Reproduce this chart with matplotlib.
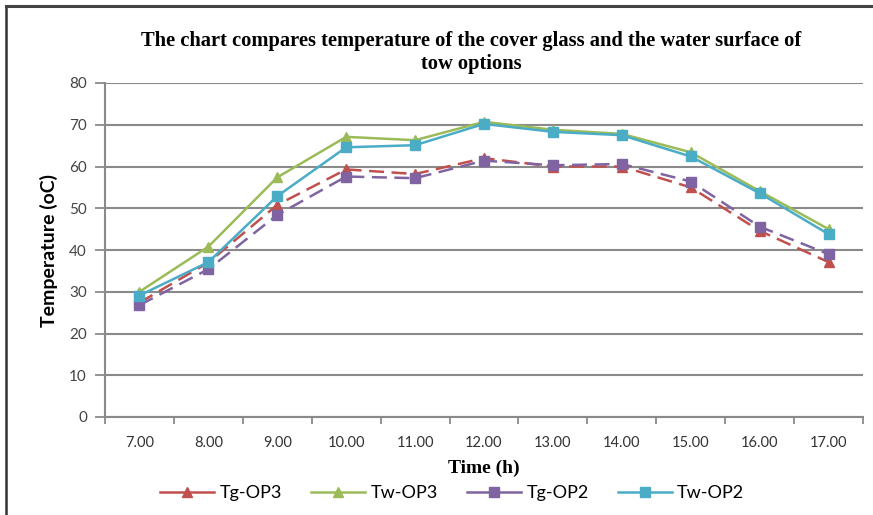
import matplotlib
matplotlib.use("Agg")
import matplotlib.pyplot as plt
from matplotlib.lines import Line2D
import numpy as np

times = ["7.00", "8.00", "9.00", "10.00", "11.00", "12.00", "13.00", "14.00", "15.00", "16.00", "17.00"]
tg_op3 = [27.4, 37.0, 50.8, 59.3, 58.2, 62.0, 60.0, 60.0, 55.0, 44.6, 37.1]
tw_op3 = [30.0, 40.8, 57.4, 67.1, 66.3, 70.7, 68.8, 67.8, 63.4, 54.1, 45.0]
tg_op2 = [26.8, 35.4, 48.4, 57.6, 57.2, 61.4, 60.3, 60.6, 56.4, 45.6, 39.0]
tw_op2 = [29.1, 37.1, 52.9, 64.6, 65.1, 70.2, 68.3, 67.5, 62.4, 53.6, 43.8]
y_ticks = [0, 10, 20, 30, 40, 50, 60, 70, 80]

title = "The chart compares temperature of the cover glass and the water surface of\ntow options"

fig = plt.figure(figsize=(8.73, 5.15), dpi=100)
ax = fig.add_axes([105/873, 1-417/515, (863-105)/873, (417-83)/515])

x = np.arange(len(times))
grid_c = "#8a8a8a"
series = [
    ("Tg-OP3", tg_op3, "#C0504D", "^", (0, (6, 3))),
    ("Tw-OP3", tw_op3, "#9BBB59", "^", "-"),
    ("Tg-OP2", tg_op2, "#8064A2", "s", (0, (6, 3))),
    ("Tw-OP2", tw_op2, "#4BACC6", "s", "-"),
]
handles = []
for name, vals, c, m, ls in series:
    ax.plot(x, vals, color=c, linestyle=ls, linewidth=1.8, marker=m,
            markersize=7, markerfacecolor=c, markeredgecolor=c, zorder=3)
    handles.append(Line2D([], [], color=c, linestyle="-", linewidth=1.8, marker=m,
                          markersize=7, markerfacecolor=c, markeredgecolor=c, label=name))

sans = ["Lato", "DejaVu Sans"]
ax.set_xlim(-0.5, len(times) - 0.5)
ax.set_ylim(0, 80)
ax.set_yticks(y_ticks)
ax.set_yticklabels([str(v) for v in y_ticks], family=sans, fontsize=11, color="#444444")
ax.set_xticks(x)
ax.set_xticklabels(times, family=sans, fontsize=10.5, color="#333333")
ax.set_xticks(np.arange(-0.5, len(times), 1.0), minor=True)
ax.tick_params(axis="x", which="major", length=0, pad=14)
ax.tick_params(axis="x", which="minor", length=5, color=grid_c, width=1.3)
ax.tick_params(axis="y", length=7, color=grid_c, width=1.3, pad=6)

ax.grid(axis="y", color=grid_c, linewidth=1.5)
ax.set_axisbelow(True)
for s in ["top", "right"]:
    ax.spines[s].set_visible(False)
for s in ["left", "bottom"]:
    ax.spines[s].set_color(grid_c)
    ax.spines[s].set_linewidth(1.5)

ax.set_ylabel("Temperature (oC)", family=sans, fontweight="bold", fontsize=14, labelpad=8)
ax.set_xlabel("Time (h)", family="Liberation Serif", fontweight="bold", fontsize=14, labelpad=7)

fig.text(0.54, 1-31/515, title, ha="center", va="top", family="Liberation Serif",
         fontweight="bold", fontsize=14.8, linespacing=1.2)

leg = fig.legend(handles=handles, loc="center", bbox_to_anchor=(0.518, 1-493/515), ncol=4, frameon=False,
                 prop={"family": sans, "size": 13},
                 handlelength=3.0, columnspacing=1.6, handletextpad=0.3)

fig.add_artist(Line2D([6/873, 6/873], [0, 1-6/515], transform=fig.transFigure, color="#333333", linewidth=1.8))
fig.add_artist(Line2D([6/873, 1], [1-6/515, 1-6/515], transform=fig.transFigure, color="#444444", linewidth=2.2))

fig.savefig("out.png", dpi=100)
